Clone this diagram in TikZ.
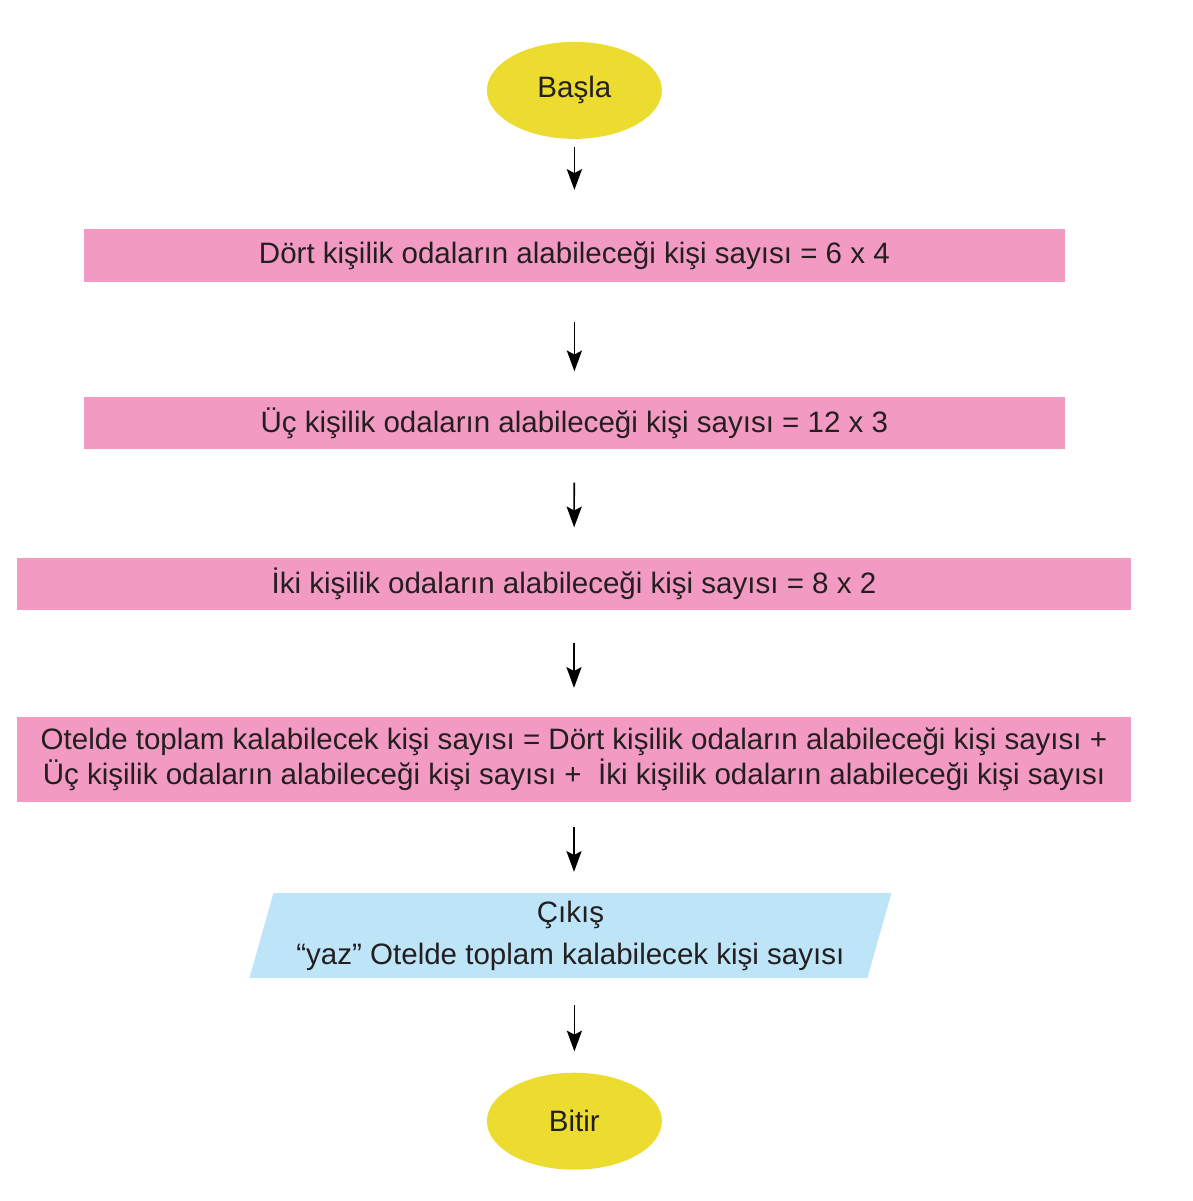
\documentclass[tikz,border=0pt]{standalone}
\usepackage{fontspec}
\setmainfont{Liberation Sans}
\usetikzlibrary{shapes.geometric,arrows.meta}
\definecolor{sari}{HTML}{ECDC2F}
\definecolor{pembe}{HTML}{F39AC3}
\definecolor{mavi}{HTML}{BEE5F7}
\definecolor{yazi}{HTML}{231F20}
\begin{document}
\begin{tikzpicture}[
  uc/.style={ellipse,fill=sari,minimum width=4.375cm,minimum height=2.425cm,inner sep=0pt},
  islem/.style={rectangle,fill=pembe,minimum height=1.32cm,inner sep=0pt,align=center},
  cikti/.style={trapezium,trapezium left angle=71,trapezium right angle=109,trapezium stretches body,
    fill=mavi,minimum width=16.05cm,minimum height=2.125cm,inner sep=0pt,align=center},
  ok/.style={line width=1.1pt,-{Stealth[length=0.52cm,width=0.38cm,inset=0.1cm]}},
  every node/.style={text=yazi,font=\fontsize{21}{25}\selectfont}]
\useasboundingbox (0,0) rectangle (29.825,-30.025);

\node[uc] (basla) at (14.36,-2.26) {Başla};
\node[islem,minimum width=24.525cm] (dort) at (14.36,-6.39) {Dört kişilik odaların alabileceği kişi sayısı = 6 x 4};
\node[islem,minimum width=24.525cm] (ucb) at (14.36,-10.575) {Üç kişilik odaların alabileceği kişi sayısı = 12 x 3};
\node[islem,minimum width=27.85cm] (iki) at (14.35,-14.6) {İki kişilik odaların alabileceği kişi sayısı = 8 x 2};
\node[islem,minimum width=27.85cm,minimum height=2.125cm] (toplam) at (14.35,-18.99)
  {Otelde toplam kalabilecek kişi sayısı = Dört kişilik odaların alabileceği kişi sayısı +\\
   Üç kişilik odaların alabileceği kişi sayısı +\ \ İki kişilik odaların alabileceği kişi sayısı};
\node[cikti] (cikis) at (14.26,-23.39) {Çıkış\\[5pt]“yaz” Otelde toplam kalabilecek kişi sayısı};
\node[uc] (bitir) at (14.36,-28.03) {Bitir};

\draw[ok,shorten <=0.2cm,shorten >=0.975cm] (basla) -- (dort);
\draw[ok,shorten <=1cm,shorten >=0.625cm] (dort) -- (ucb);
\draw[ok,shorten <=0.825cm,shorten >=0.75cm] (ucb) -- (iki);
\draw[ok,shorten <=0.8cm,shorten >=0.725cm] (iki) -- (toplam);
\draw[ok,shorten <=0.625cm,shorten >=0.525cm] (toplam.south) -- (toplam.south |- cikis.north);
\draw[ok,shorten <=0.675cm,shorten >=0.525cm] (bitir.north |- cikis.south) -- (bitir);
\end{tikzpicture}
\end{document}
